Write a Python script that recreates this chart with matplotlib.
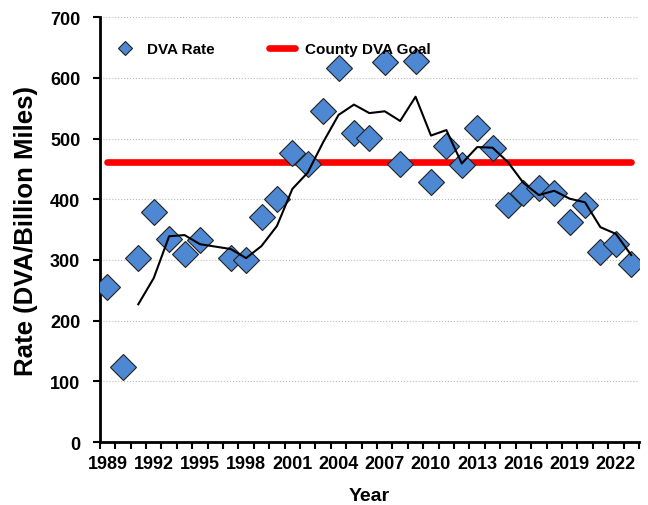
import matplotlib
matplotlib.use("Agg")
import matplotlib.pyplot as plt
import numpy as np

plt.rcParams['font.family'] = ['Liberation Sans', 'DejaVu Sans']
plt.rcParams['font.weight'] = 'bold'

# --- DATA ---
years = list(range(1989, 2024))
# DVA rate per year (1996 missing)
dva_rate = [256, 123, 303, 379, 335, 310, 333, None, 303, 300,
            370, 400, 477, 458, 546, 616, 509, 501, 626, 458,
            628, 428, 487, 456, 517, 485, 391, 411, 419, 411,
            362, 390, 313, 327, 294]
# moving average trend line (starts 1991)
trend = [None, None, 227, 270, 339, 341, 326, 322, 318, 303,
         323, 356, 417, 444, 494, 539, 556, 542, 545, 529,
         569, 505, 514, 459, 486, 485, 461, 427, 407, 414,
         401, 395, 354, 343, 308]
goal = 462
tick_years = list(range(1989, 2024, 3))

x = np.arange(len(years))
rate = np.array([np.nan if v is None else v for v in dva_rate], dtype=float)
tr = np.array([np.nan if v is None else v for v in trend], dtype=float)
ok = ~np.isnan(tr)

fig = plt.figure(figsize=(6.48, 5.06), dpi=100)
ax = fig.add_axes([0.154, 0.1245, 0.832, 0.8395])

ax.plot(x, [goal] * len(x), color='#FF0000', lw=4.8, solid_capstyle='round',
        label='County DVA Goal', zorder=2)
ax.plot(x[ok], tr[ok], color='black', lw=1.5, zorder=4)
ax.plot(x, rate, 'D', color='#4F88D2', markeredgecolor='#222222',
        markeredgewidth=0.8, markersize=13.5, label='DVA Rate', zorder=3)

ax.set_xlim(-0.5, len(years) - 0.5)
ax.set_ylim(0, 700)
ax.set_yticks(range(0, 701, 100))
ax.yaxis.grid(True, color='#BBBBBB', linestyle=':', linewidth=0.8)
ax.set_axisbelow(True)

# labels at category centres, tick marks between categories
ax.set_xticks([years.index(y) for y in tick_years])
ax.set_xticklabels([str(y) for y in tick_years])
ax.set_xticks(np.arange(-0.5, len(years)), minor=True)
ax.tick_params(axis='x', which='major', length=0, pad=9, labelsize=13)
ax.tick_params(axis='x', which='minor', length=5, width=1.5, direction='out')
ax.tick_params(axis='y', length=5, width=1.5, direction='out', labelsize=13, pad=9)

for s in ['top', 'right']:
    ax.spines[s].set_visible(False)
for s in ['left', 'bottom']:
    ax.spines[s].set_linewidth(2)

ax.set_xlabel('Year', fontsize=14, fontweight='bold', va='top')
ax.xaxis.set_label_coords(0.5, -0.106)
ax.set_ylabel('Rate (DVA/Billion Miles)', fontsize=18.5, fontweight='bold')
ax.yaxis.set_label_coords(-0.114, 0.5)

h, l = ax.get_legend_handles_labels()
ax.legend(h[::-1], l[::-1], loc='center left', bbox_to_anchor=(0.022, 0.925), ncol=2,
          frameon=False, markerscale=0.5, columnspacing=3.6, borderpad=0,
          borderaxespad=0, handlelength=1.7, handletextpad=0.6,
          prop={'weight': 'bold', 'size': 11})

fig.savefig('out.png', dpi=100)
